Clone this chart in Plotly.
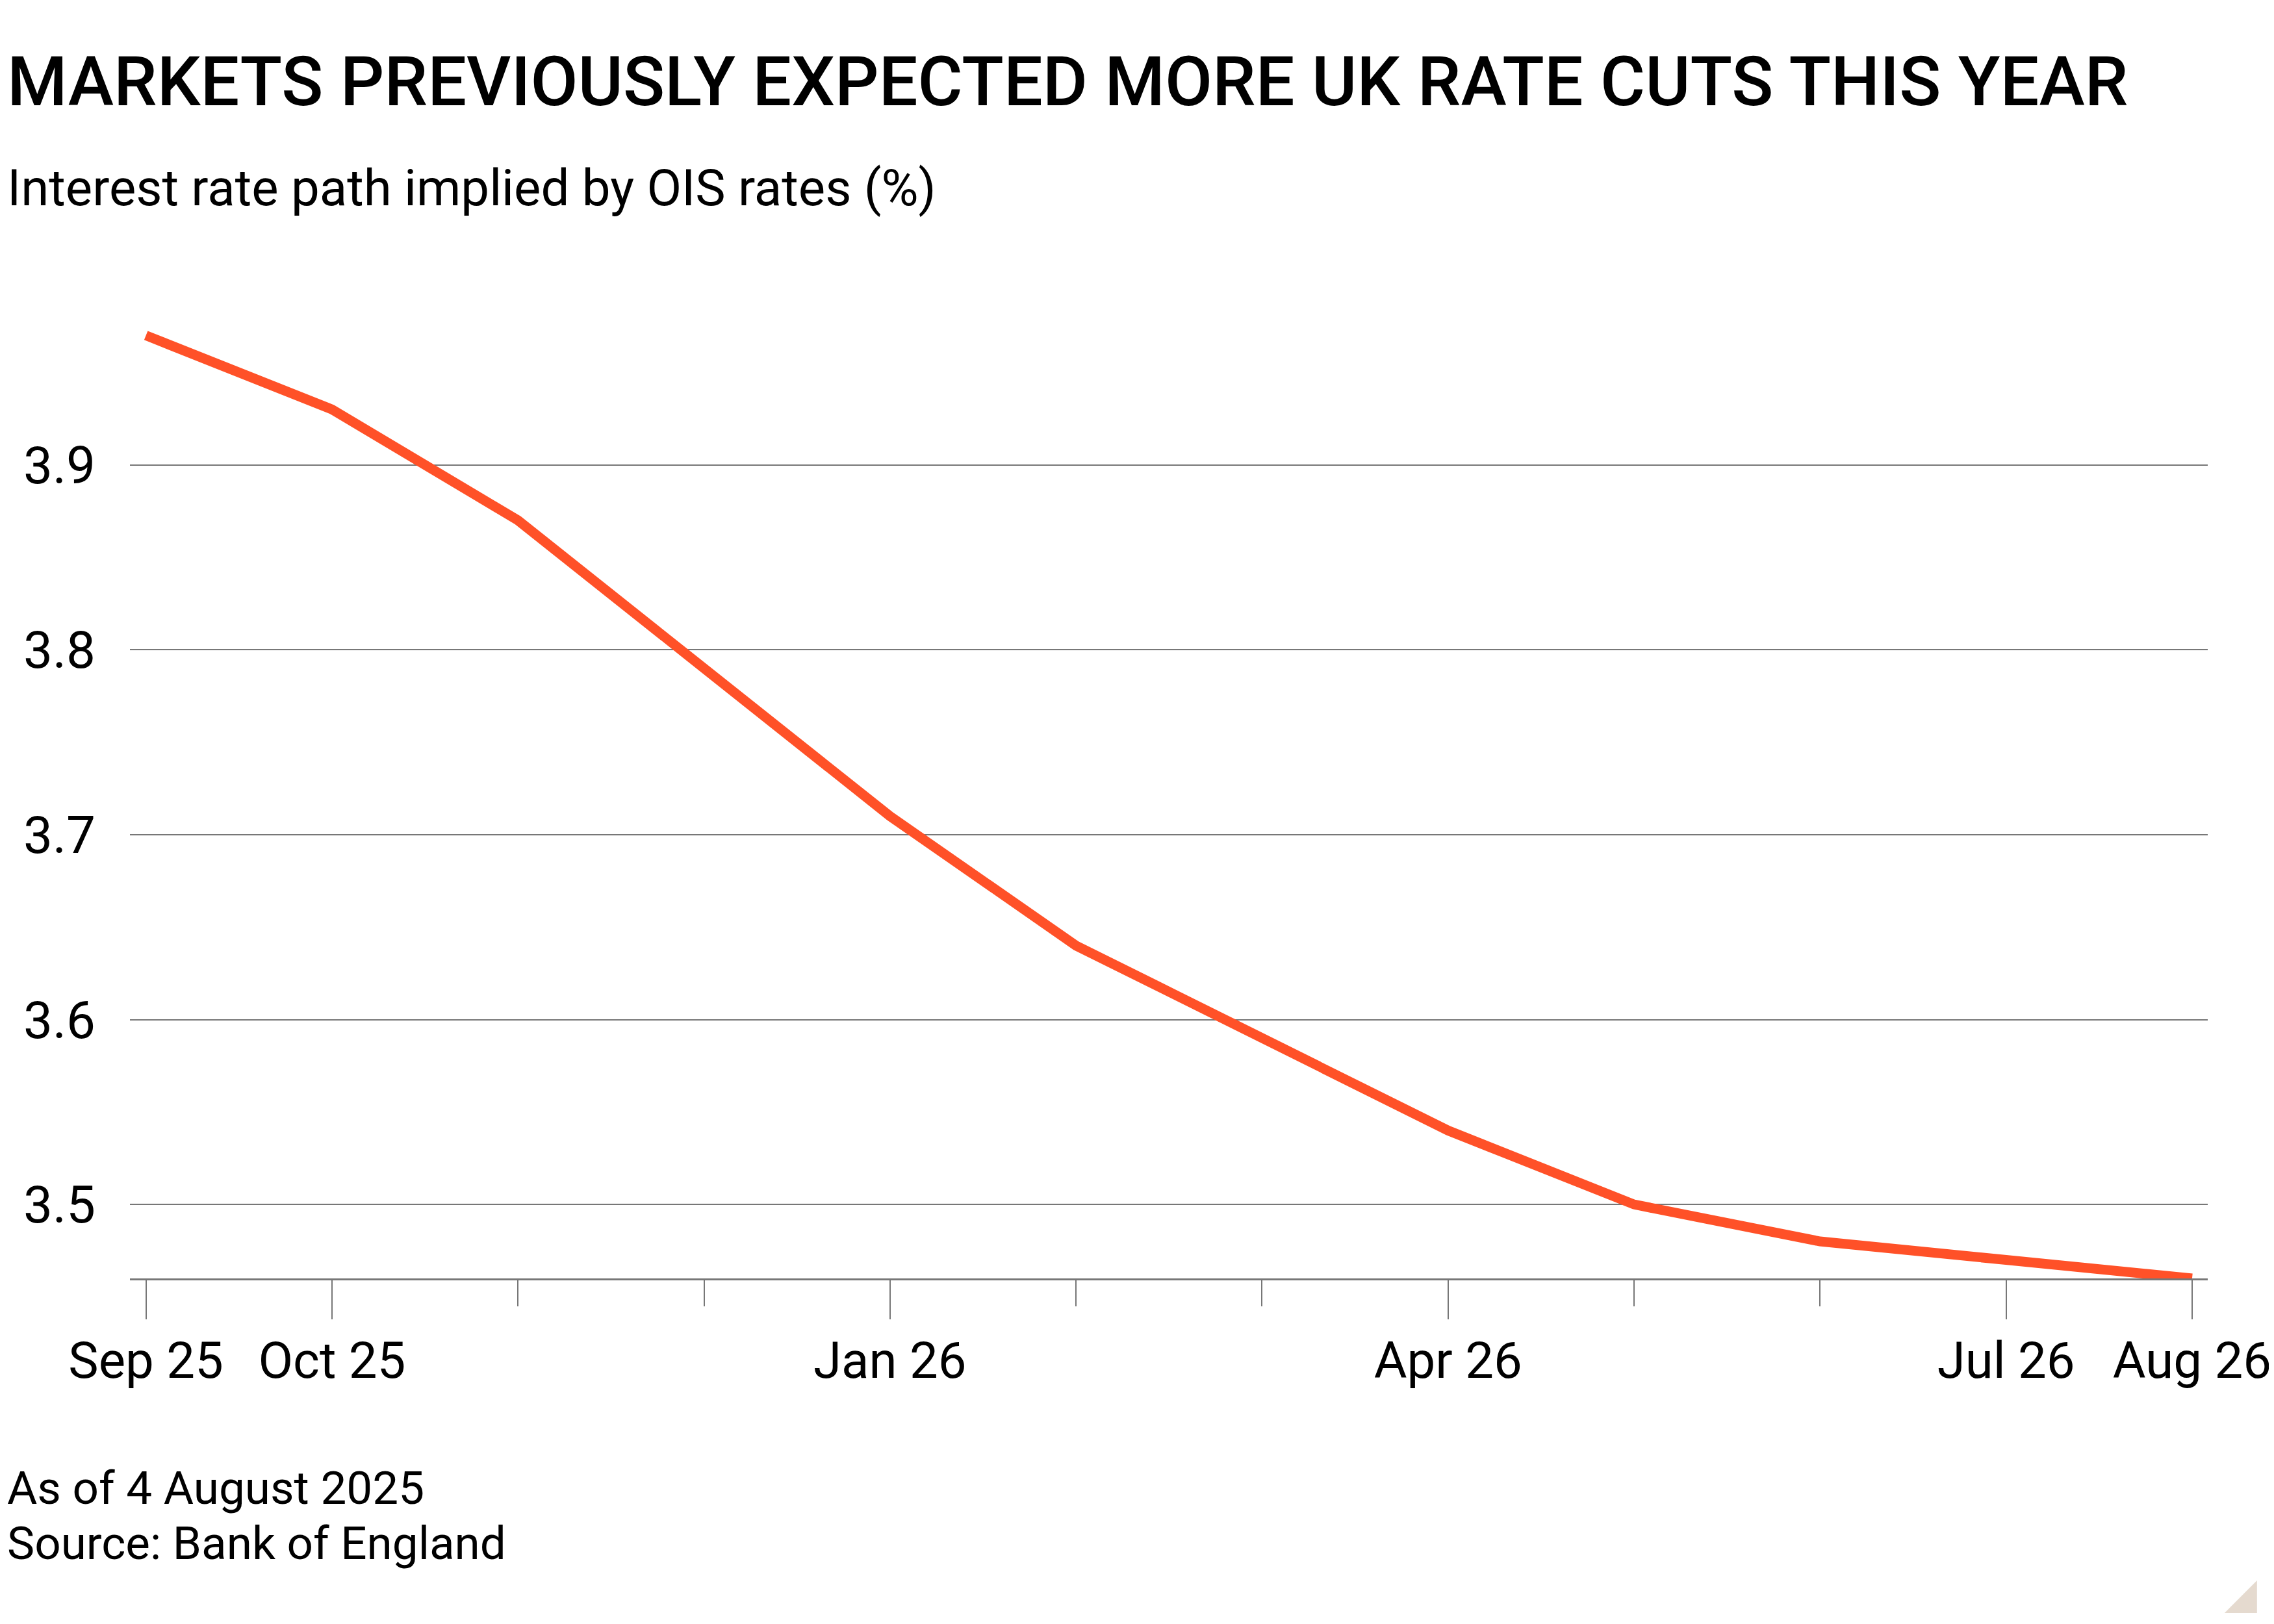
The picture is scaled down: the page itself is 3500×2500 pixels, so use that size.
import plotly.graph_objects as go

# monthly OIS implied path (%)
months = ["Sep 25", "Oct 25", "Nov 25", "Dec 25", "Jan 26", "Feb 26",
          "Mar 26", "Apr 26", "May 26", "Jun 26", "Jul 26", "Aug 26"]
rates = [3.97, 3.93, 3.87, 3.79, 3.71, 3.64, 3.59, 3.54, 3.50, 3.48, 3.47, 3.46]

labelled = ["Sep 25", "Oct 25", "Jan 26", "Apr 26", "Jul 26", "Aug 26"]
y_ticks = [3.5, 3.6, 3.7, 3.8, 3.9]

title = "MARKETS PREVIOUSLY EXPECTED MORE UK RATE CUTS THIS YEAR"
subtitle = "Interest rate path implied by OIS rates (%)"
notes = ["As of 4 August 2025", "Source: Bank of England"]

W, H = 3500, 2500
L, R, T, B = 192, 101, 423, 540
pw, ph = W - L - R, H - T - B

FONT = "Roboto"
GREY = "#777777"


def px(x):
    return (x - L) / pw


def py(y):
    return (H - B - y) / ph


idx = list(range(len(months)))

fig = go.Figure()
fig.add_trace(go.Scatter(x=idx, y=rates, mode="lines",
                         line=dict(color="#ff5128", width=15),
                         hoverinfo="skip"))

fig.update_layout(
    width=W, height=H,
    margin=dict(l=L, r=R, t=T, b=B),
    paper_bgcolor="white", plot_bgcolor="white",
    showlegend=False,
    font=dict(family=FONT, color="black"),
)

fig.update_xaxes(
    range=[-0.086, len(months) - 1 + 0.084],
    tickmode="array",
    tickvals=[months.index(m) for m in labelled],
    ticktext=labelled,
    ticks="outside", ticklen=60, tickwidth=2, tickcolor=GREY,
    minor=dict(tickmode="array", tickvals=idx, ticks="outside",
               ticklen=40, tickwidth=2, tickcolor=GREY, showgrid=False),
    showgrid=False, zeroline=False,
    showline=True, linecolor=GREY, linewidth=3,
    ticklabelstandoff=-4,
    tickfont=dict(size=78, family=FONT),
)

fig.update_yaxes(
    range=[3.46, 4.0],
    tickmode="array", tickvals=y_ticks,
    ticktext=[f"{v:.1f}" for v in y_ticks],
    ticks="", ticklabelstandoff=52,
    showgrid=True, gridcolor=GREY, gridwidth=2,
    zeroline=False, showline=False,
    tickfont=dict(size=80, family=FONT),
)

fig.add_annotation(text=title, x=px(0), y=py(118), xref="paper", yref="paper",
                   xanchor="left", yanchor="middle", showarrow=False,
                   font=dict(size=106, family=FONT, weight=500))
fig.add_annotation(text=subtitle, x=px(0), y=py(282), xref="paper", yref="paper",
                   xanchor="left", yanchor="middle", showarrow=False,
                   font=dict(size=78, family=FONT))
for txt, yy in zip(notes, [2282, 2367]):
    fig.add_annotation(text=txt, x=px(0), y=py(yy), xref="paper", yref="paper",
                       xanchor="left", yanchor="middle", showarrow=False,
                       font=dict(size=71, family=FONT))

# little beige corner mark
fig.add_shape(type="path", xref="paper", yref="paper",
              path=f"M {px(3425)} {py(2475)} L {px(3475)} {py(2475)} L {px(3475)} {py(2425)} Z",
              fillcolor="#e5dacf", line=dict(width=0))

fig.write_html("out.html")
